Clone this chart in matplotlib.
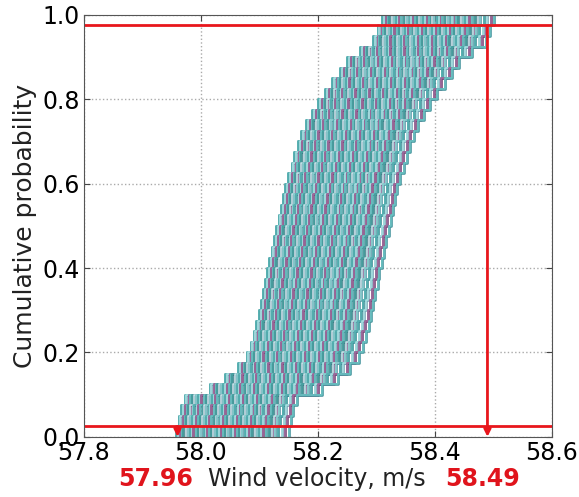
import numpy as np
import matplotlib
matplotlib.use("Agg")
import matplotlib.pyplot as plt
import matplotlib.patheffects as pe

# base sample (leftmost curve)
base_sample = [57.958, 57.962, 57.966, 57.972, 58.015, 58.042, 58.063, 58.078,
               58.085, 58.090, 58.095, 58.099, 58.103, 58.106, 58.110, 58.113,
               58.117, 58.121, 58.125, 58.129, 58.133, 58.137, 58.140, 58.144,
               58.149, 58.155, 58.160, 58.166, 58.172, 58.180, 58.190, 58.200,
               58.212, 58.225, 58.238, 58.250, 58.272, 58.295, 58.302, 58.310]

# horizontal shifts of each simulated curve
shifts = [0.000, 0.003, 0.007, 0.010, 0.012, 0.016, 0.020, 0.023, 0.027, 0.029,
          0.033, 0.037, 0.040, 0.043, 0.047, 0.050, 0.052, 0.056, 0.060, 0.063,
          0.066, 0.070, 0.073, 0.076, 0.080, 0.083, 0.086, 0.089, 0.093, 0.097,
          0.100, 0.103, 0.107, 0.110, 0.113, 0.117, 0.120, 0.124, 0.127, 0.130,
          0.134, 0.138, 0.141, 0.145, 0.149, 0.153, 0.158, 0.163, 0.168, 0.174,
          0.180, 0.186, 0.192]

line_colors = ['#58b4b4', '#a8e4e4', '#a06c9e', '#6cc4c4', '#4aa2a2', '#bfeaea', '#8fd2d2']
edge_colors = ['#3f8f98', '#7aa8b8', '#7a4a7a', '#4b98a0', '#3a8088', '#8a6a98', '#5a9aa8']

lower_q = 0.025
upper_q = 0.975
v_low = 57.96
v_high = 58.49

fig = plt.figure(figsize=(5.79, 4.97), dpi=100)
ax = fig.add_axes([0.145, 0.121, 0.808, 0.849])

n = len(base_sample)
probs = np.arange(1, n + 1) / n
for i, s in enumerate(shifts):
    xs = np.array(base_sample) + s
    xx = np.r_[xs[0], xs]
    yy = np.r_[0.0, probs]
    ax.step(xx, yy, where='post', color=line_colors[i % len(line_colors)], lw=1.1,
            path_effects=[pe.Stroke(linewidth=1.9, foreground=edge_colors[i % len(edge_colors)]),
                          pe.Normal()])

ax.axhline(upper_q, color='#e8161c', lw=2)
ax.axhline(lower_q, color='#e8161c', lw=2)
ax.annotate('', xy=(v_high, 0.0), xytext=(v_high, upper_q),
            arrowprops=dict(arrowstyle='-|>', color='#e8161c', lw=2, mutation_scale=10,
                            shrinkA=0, shrinkB=0))
ax.annotate('', xy=(v_low, 0.0), xytext=(v_low, lower_q),
            arrowprops=dict(arrowstyle='-|>', color='#e8161c', lw=2, mutation_scale=10,
                            shrinkA=0, shrinkB=0))

ax.set_xlim(57.8, 58.6)
ax.set_ylim(0, 1)
ax.set_xticks([57.8, 58.0, 58.2, 58.4, 58.6])
ax.set_yticks([0.0, 0.2, 0.4, 0.6, 0.8, 1.0])
ax.tick_params(direction='in', top=True, right=True, labelsize=17, length=4,
               color='#444444', pad=3)
ax.grid(True, linestyle=':', color='#aaaaaa', lw=1)
for sp in ax.spines.values():
    sp.set_color('#555555')

ax.set_ylabel('Cumulative probability', fontsize=18, color='#222222', labelpad=4)
fig.text(0.548, 0.036, 'Wind velocity, m/s', fontsize=17, ha='center', va='center',
         color='#222222')
fig.text(0.268, 0.036, '57.96', fontsize=17, ha='center', va='center',
         color='#e0141c', fontweight='bold')
fig.text(0.833, 0.036, '58.49', fontsize=17, ha='center', va='center',
         color='#e0141c', fontweight='bold')

fig.savefig('out.png', dpi=100)
